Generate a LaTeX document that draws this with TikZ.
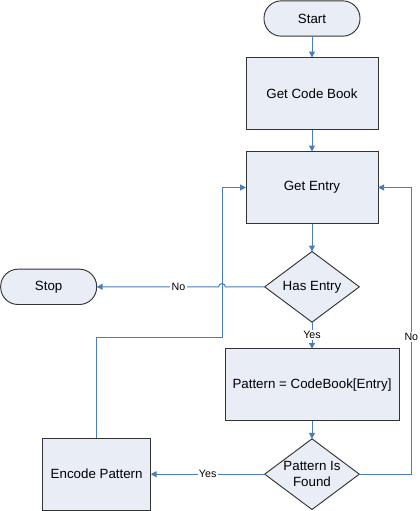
\documentclass[tikz,border=0pt]{standalone}
\usepackage{fontspec}
\setmainfont{Liberation Sans}
\usetikzlibrary{shapes.geometric, arrows.meta, positioning, calc}

\definecolor{boxfill}{RGB}{232,237,246}
\definecolor{flowblue}{RGB}{74,126,187}

\begin{document}
\begin{tikzpicture}[
        x=0.75pt, y=-0.75pt,
        node distance=16pt,
        term/.style={rectangle, draw=black!80, line width=0.7pt, outer sep=0pt, fill=boxfill, rounded corners=13pt, minimum width=72pt, minimum height=26.5pt},
        box/.style={rectangle, draw=black!80, line width=0.7pt, outer sep=0pt, fill=boxfill, minimum width=99pt, minimum height=54pt, align=center},
        decision/.style={diamond, draw=black!80, line width=0.7pt, outer sep=0pt, fill=boxfill, minimum width=71pt, minimum height=53pt, inner sep=0pt, aspect=1.34, align=center},
        flow/.style={draw=flowblue, line width=0.75pt, -{Triangle[length=4.5pt, width=4.5pt]}},
        lbl/.style={fill=white, inner sep=1pt, font=\footnotesize}
    ]
        \useasboundingbox (0,0) rectangle (419,511);

        \node[term] (start) at (312,18.5) {Start};
        \node[box, below=16pt of start] (codebook) {Get Code Book};
        \node[box, below=16.5pt of codebook] (entry) {Get Entry};
        \node[decision, below=21pt of entry] (hasentry) {Has Entry};
        \node[box, below=20pt of hasentry, minimum width=130.5pt] (pattern) {Pattern = CodeBook[Entry]};
        \node[decision, below=13.5pt of pattern] (found) {Pattern Is\\Found};
        \node[term, left=126pt of hasentry] (stop) {Stop};
        \node[box, left=85.5pt of found, minimum width=81pt] (encode) {Encode Pattern};

        \coordinate (bend) at (222,337);

        \draw[flow] (start) -- (codebook);
        \draw[flow] (codebook) -- (entry);
        \draw[flow] (entry) -- (hasentry);
        \draw[flow] (hasentry) -- node[lbl, pos=0.48] {Yes} (pattern);
        \draw[flow] (pattern) -- (found);
        \draw[flow] (found) -- node[lbl] {Yes} (encode);

        % loop back from the encoder, hopping over the No line
        \draw[flow] (encode.north) |- (bend) |- (entry.west);
        \draw[flow] (hasentry.west) -- ($(bend |- hasentry)+(2.5pt,0)$) arc[start angle=0, end angle=180, radius=2.5pt] -- node[lbl, pos=0.33] {No} (stop.east);
        \draw[flow] (found.east) -- ++(52,0) |- node[lbl, pos=0.24] {No} (entry.east);
    \end{tikzpicture}
\end{document}
